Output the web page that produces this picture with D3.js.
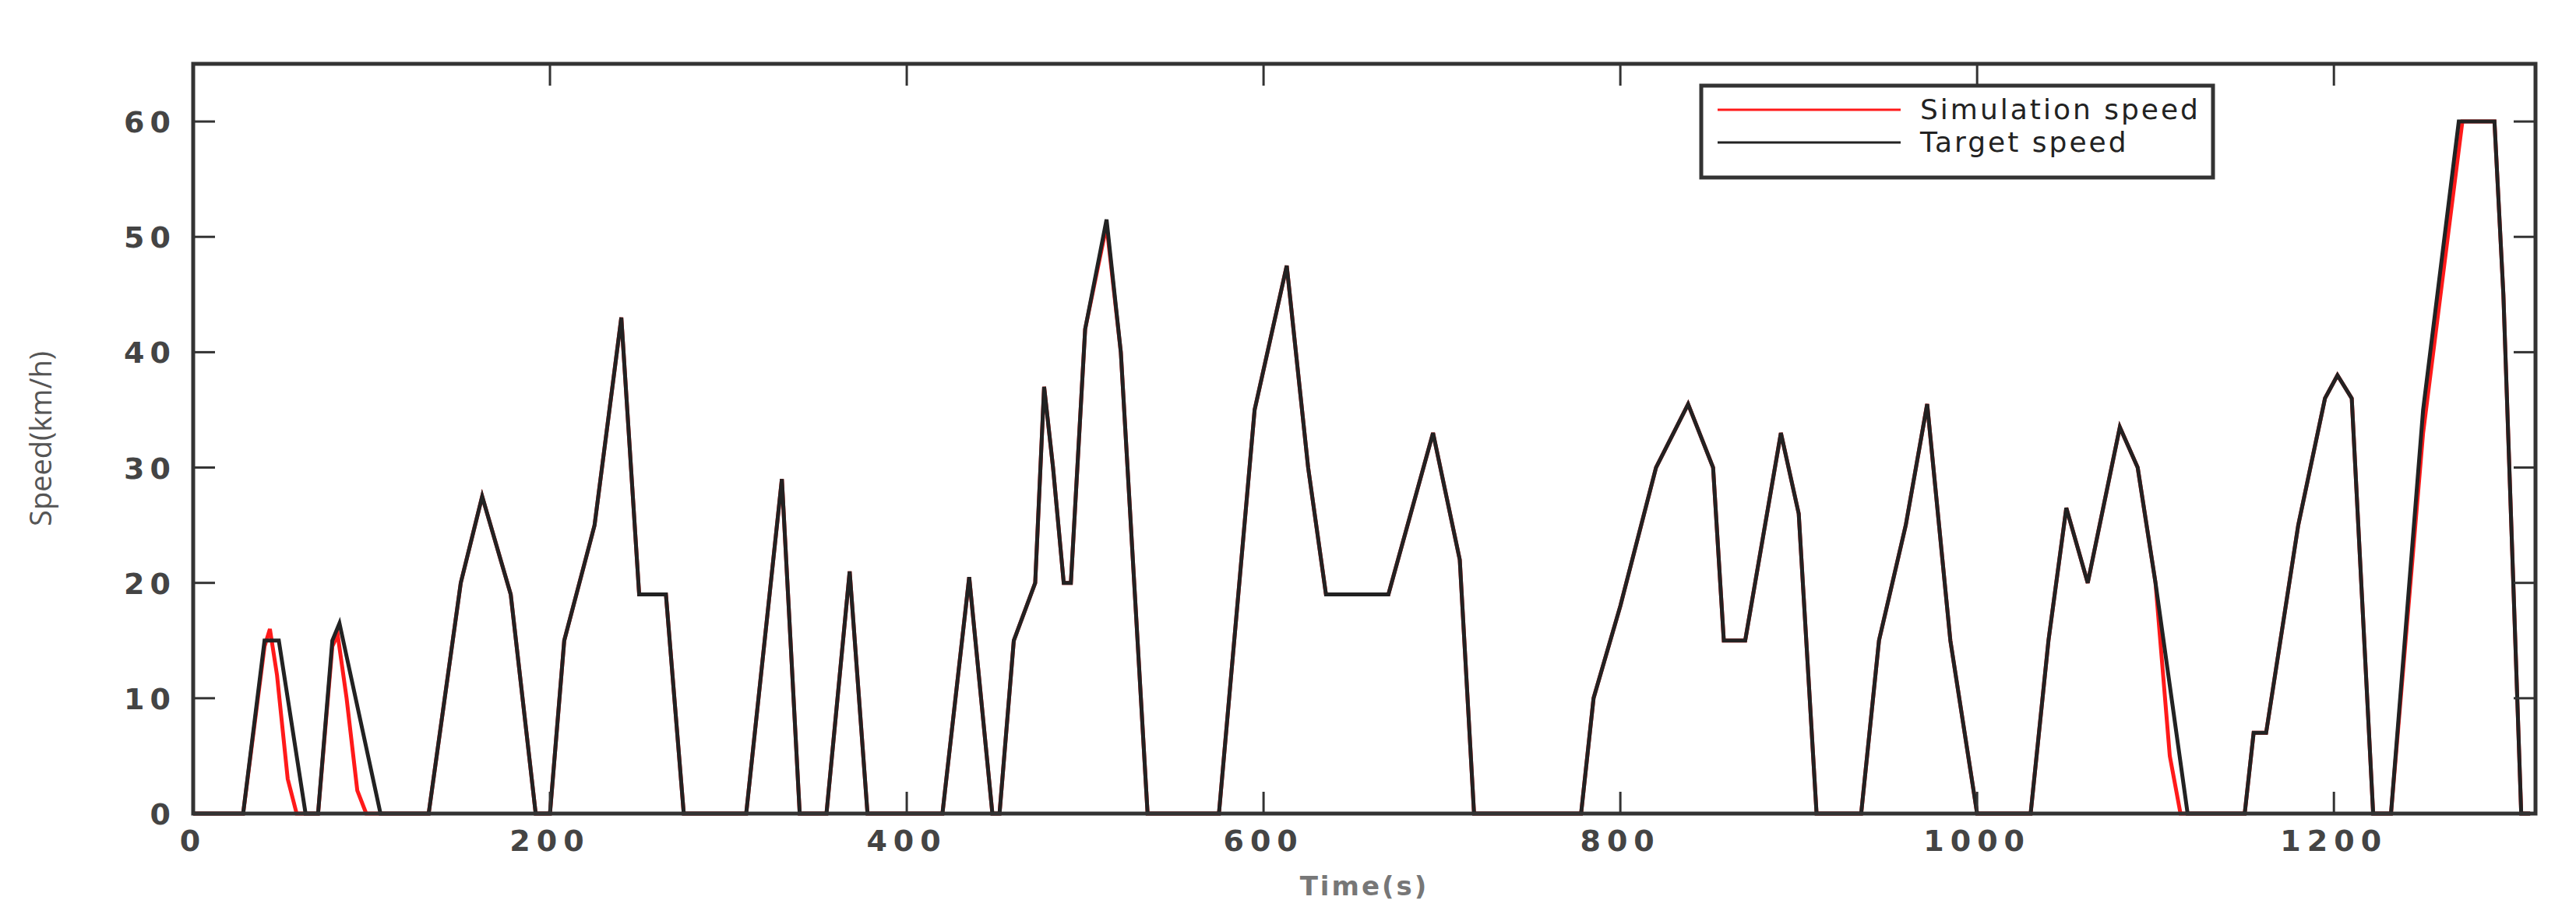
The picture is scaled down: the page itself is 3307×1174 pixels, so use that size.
<!DOCTYPE html>
<html><head><meta charset="utf-8">
<script src="https://cdn.jsdelivr.net/npm/d3@7"></script>
<style>body{margin:0;background:#fff}</style></head>
<body><svg id="c" width="3307" height="1174"></svg>
<script>
// target speed profile (time s, speed km/h)
var targetT = [0,28,40,48,63,70,78,82,105,132,150,162,178,192,200,208,225,240,250,265,275,310,330,340,355,368,378,420,435,448,452,460,472,477,482,488,492,500,512,520,535,575,595,613,625,635,670,695,710,718,778,785,800,820,838,852,858,870,890,900,910,935,945,960,972,985,1000,1030,1040,1050,1062,1080,1090,1100,1118,1150,1155,1162,1180,1195,1202,1210,1222,1232,1250,1270,1290,1295,1305,1310];
var targetV = [0,0,15,15,0,0,15,16.5,0,0,20,27.5,19,0,0,15,25,43,19,19,0,0,29,0,0,21,0,0,20.5,0,0,15,20,37,30,20,20,42,51.5,40,0,0,35,47.5,30,19,19,33,22,0,0,10,18,30,35.5,30,15,15,33,26,0,0,15,25,35.5,15,0,0,15,26.5,20,33.5,30,20,0,0,7,7,25,36,38,36,0,0,35,60,60,45,0,0];
// simulation speed
var simT = [0,28,40,43,47,53,58,70,78,81,86,92,97,105,132,150,162,178,192,200,208,225,240,250,265,275,310,330,340,355,368,378,420,435,448,452,460,472,477,482,488,492,500,512,520,535,575,595,613,625,635,670,695,710,718,778,785,800,820,838,852,858,870,890,900,910,935,945,960,972,985,1000,1030,1040,1050,1062,1080,1090,1100,1108,1114,1150,1155,1162,1180,1195,1202,1210,1222,1232,1250,1272,1290,1295,1305,1310];
var simV = [0,0,14.5,16,12,3,0,0,14.5,15.5,10,2,0,0,0,20,27.5,19,0,0,15,25,43,19,19,0,0,29,0,0,21,0,0,20.5,0,0,15,20,37,30,20,20,42,51,40,0,0,35,47.5,30,19,19,33,22,0,0,10,18,30,35.5,30,15,15,33,26,0,0,15,25,35.5,15,0,0,15,26.5,20,33.5,30,20,5,0,0,7,7,25,36,38,36,0,0,33,60,60,45,0,0];
var xTicks = [0,200,400,600,800,1000,1200];
var yTicks = [0,10,20,30,40,50,60];

var L = 248, R = 3255, T = 82, B = 1045;
var svg = d3.select("#c");
var x = d3.scaleLinear().domain([0,1313]).range([L,R]);
var y = d3.scaleLinear().domain([0,65]).range([B,T]);
var tickFont = "DejaVu Sans";

function zip(t,v){ return t.map(function(d,i){return [d,v[i]];}); }
var line = d3.line().x(function(d){return x(d[0]);}).y(function(d){return y(d[1]);});

svg.append("path").attr("d", line(zip(simT,simV)))
  .attr("fill","none").attr("stroke","#ff1a1a").attr("stroke-width",5);
svg.append("path").attr("d", line(zip(targetT,targetV)))
  .attr("fill","none").attr("stroke","#222").attr("stroke-width",5);

// frame
svg.append("rect").attr("x",L).attr("y",T).attr("width",R-L).attr("height",B-T)
  .attr("fill","none").attr("stroke","#333").attr("stroke-width",5);

var tk = 28;
yTicks.forEach(function(v){
  svg.append("line").attr("x1",L).attr("x2",L+tk).attr("y1",y(v)).attr("y2",y(v)).attr("stroke","#333").attr("stroke-width",3);
  svg.append("line").attr("x1",R).attr("x2",R-tk).attr("y1",y(v)).attr("y2",y(v)).attr("stroke","#333").attr("stroke-width",3);
  svg.append("text").attr("x",L-22).attr("y",y(v)+14).attr("text-anchor","end")
    .attr("font-family",tickFont).attr("font-size",38).attr("font-weight","bold").attr("fill","#444")
    .attr("letter-spacing",7).text(v);
});
xTicks.forEach(function(v){
  svg.append("line").attr("x1",x(v)).attr("x2",x(v)).attr("y1",B).attr("y2",B-tk).attr("stroke","#333").attr("stroke-width",3);
  svg.append("line").attr("x1",x(v)).attr("x2",x(v)).attr("y1",T).attr("y2",T+tk).attr("stroke","#333").attr("stroke-width",3);
  svg.append("text").attr("x",x(v)).attr("y",B+48).attr("text-anchor","middle")
    .attr("font-family",tickFont).attr("font-size",38).attr("font-weight","bold").attr("fill","#444")
    .attr("letter-spacing",8).text(v);
});

svg.append("text").attr("transform","translate(66,"+((T+B)/2)+") rotate(-90)")
  .attr("text-anchor","middle").attr("font-family","Liberation Sans Narrow, Open Sans").attr("font-size",38)
  .attr("fill","#555").text("Speed(km/h)");
svg.append("text").attr("x",(L+R)/2).attr("y",1150).attr("text-anchor","middle")
  .attr("font-family",tickFont).attr("font-size",34).attr("font-weight","bold").attr("fill","#777")
  .attr("letter-spacing",3).text("Time(s)");

// legend
var lg = svg.append("g");
lg.append("rect").attr("x",2184).attr("y",110).attr("width",657).attr("height",118)
  .attr("fill","#fff").attr("stroke","#333").attr("stroke-width",5);
var items = [["Simulation speed","#ff1a1a"],["Target speed","#222"]];
items.forEach(function(d,i){
  var yy = 141 + i*42;
  lg.append("line").attr("x1",2205).attr("x2",2440).attr("y1",yy).attr("y2",yy).attr("stroke",d[1]).attr("stroke-width",3);
  lg.append("text").attr("x",2465).attr("y",yy+12).attr("font-family",tickFont).attr("font-size",36)
    .attr("fill","#222").attr("letter-spacing",3).text(d[0]);
});
</script></body></html>
